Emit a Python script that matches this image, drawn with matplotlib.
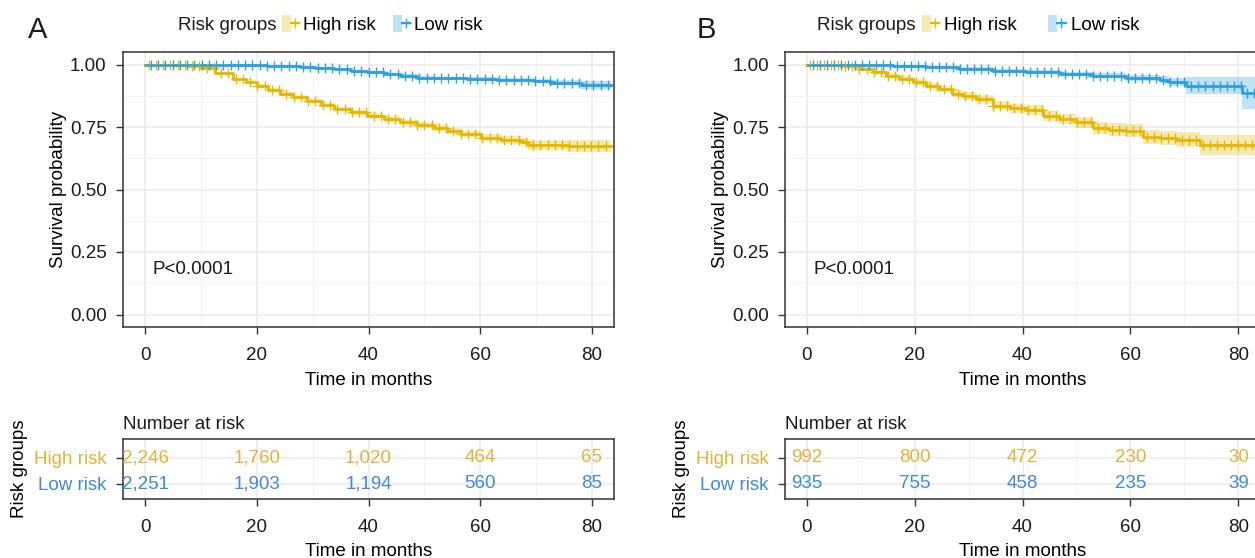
import matplotlib
matplotlib.use("Agg")
import matplotlib.pyplot as plt
import numpy as np
from matplotlib.patches import Patch
from matplotlib.lines import Line2D
from matplotlib.legend_handler import HandlerTuple
from matplotlib.ticker import MultipleLocator

plt.rcParams['font.family'] = ['Liberation Sans', 'DejaVu Sans']

W, H = 1255, 558
FS = 13.5

groups = ["High risk", "Low risk"]
curve_colors = {"High risk": "#E7B800", "Low risk": "#2E9FDF"}
table_colors = {"High risk": "#E2B33C", "Low risk": "#3F88DA"}
panel_labels = ["A", "B"]
pval_text = "P<0.0001"
risk_times = [0, 20, 40, 60, 80]

# ---------------- Panel A data ----------------
A_high_t = [0, 7.5, 9.9, 12.5, 15.8, 18.0, 20.0, 22.0, 24.2, 26.5, 29.0, 31.5, 33.8, 36.8, 39.8,
            42.7, 45.7, 48.7, 51.7, 54.0, 56.5, 60.1, 63.7, 67.3, 68.5, 75.7, 83.5]
A_high_s = [1.0, 0.995, 0.987, 0.968, 0.943, 0.930, 0.916, 0.900, 0.883, 0.870, 0.856, 0.838, 0.823,
            0.810, 0.796, 0.783, 0.769, 0.758, 0.747, 0.735, 0.723, 0.707, 0.699, 0.689, 0.679,
            0.675, 0.675]
A_high_hw = [0, 0.002, 0.003, 0.004, 0.005, 0.006, 0.006, 0.007, 0.007, 0.008, 0.008, 0.009, 0.009,
             0.010, 0.010, 0.011, 0.011, 0.012, 0.012, 0.013, 0.013, 0.014, 0.015, 0.016, 0.020,
             0.024, 0.024]
A_high_cens = [0.6, 1.9, 3.2, 4.5, 5.8, 7.1, 8.4, 9.7, 11.0, 12.3, 13.6, 14.9, 16.2, 17.5, 18.8,
               20.1, 21.4, 22.7, 24.0, 25.3, 26.6, 27.9, 29.2, 30.5, 31.8, 33.1, 34.4, 35.7, 37.0,
               38.3, 39.6, 40.9, 42.2, 43.5, 44.8, 46.1, 47.4, 48.7, 50.0, 51.3, 52.6, 53.9, 55.2,
               56.5, 57.8, 59.1, 60.4, 61.7, 63.0, 64.3, 65.6, 66.9, 68.2, 69.5, 70.8, 72.1, 73.4,
               74.7, 76.0, 77.3, 78.6, 79.9, 81.2, 82.5]

A_low_t = [0, 19.4, 21.8, 24.5, 27.8, 30.5, 33.8, 36.8, 39.8, 42.7, 45.7, 48.7, 52.0, 57.7, 63.0,
           69.7, 72.6, 78.0, 83.5]
A_low_s = [1.0, 0.998, 0.996, 0.994, 0.991, 0.987, 0.982, 0.976, 0.969, 0.962, 0.955, 0.947, 0.945,
           0.943, 0.940, 0.936, 0.927, 0.919, 0.919]
A_low_hw = [0, 0.001, 0.002, 0.002, 0.003, 0.003, 0.004, 0.004, 0.005, 0.005, 0.006, 0.006, 0.006,
            0.007, 0.007, 0.008, 0.010, 0.015, 0.015]
A_low_cens = [1.0, 2.3, 3.6, 4.9, 6.2, 7.5, 8.8, 10.1, 11.4, 12.7, 14.0, 15.3, 16.6, 17.9, 19.2,
              20.5, 21.8, 23.1, 24.4, 25.7, 27.0, 28.3, 29.6, 30.9, 32.2, 33.5, 34.8, 36.1, 37.4,
              38.7, 40.0, 41.3, 42.6, 43.9, 45.2, 46.5, 47.8, 49.1, 50.4, 51.7, 53.0, 54.3, 55.6,
              56.9, 58.2, 59.5, 60.8, 62.1, 63.4, 64.7, 66.0, 67.3, 68.6, 69.9, 71.2, 72.5, 73.8,
              75.1, 76.4, 77.7, 79.0, 80.3, 81.6, 82.9]

A_risk_high = [2246, 1760, 1020, 464, 65]
A_risk_low = [2251, 1903, 1194, 560, 85]

# ---------------- Panel B data ----------------
B_high_t = [0, 6.1, 9.8, 12.3, 14.8, 17.2, 19.7, 22.1, 24.6, 27.0, 29.0, 31.4, 34.5, 37.6, 40.7,
            43.8, 46.8, 49.9, 53.0, 56.0, 59.2, 62.3, 65.4, 68.5, 72.8, 83.5]
B_high_s = [1.0, 0.994, 0.983, 0.970, 0.956, 0.944, 0.929, 0.916, 0.903, 0.883, 0.875, 0.863, 0.836,
            0.826, 0.819, 0.796, 0.782, 0.769, 0.747, 0.740, 0.736, 0.712, 0.706, 0.699, 0.679,
            0.679]
B_high_hw = [0, 0.003, 0.005, 0.007, 0.009, 0.010, 0.011, 0.012, 0.013, 0.014, 0.015, 0.016, 0.017,
             0.018, 0.019, 0.020, 0.021, 0.022, 0.024, 0.025, 0.026, 0.028, 0.029, 0.030, 0.040,
             0.044]
B_high_cens = [0.7, 2.0, 3.3, 4.6, 5.9, 7.2, 8.5, 9.8, 11.1, 12.4, 13.7, 15.0, 16.3, 17.6, 18.9,
               20.2, 21.5, 22.8, 24.1, 25.4, 26.7, 28.0, 29.3, 30.6, 31.9, 33.2, 34.5, 35.8, 37.1,
               38.4, 39.7, 41.0, 42.3, 43.6, 44.9, 46.2, 47.5, 48.8, 50.1, 51.4, 52.7, 54.0, 55.3,
               56.6, 57.9, 59.2, 60.5, 61.8, 63.1, 64.4, 65.7, 67.0, 68.3, 69.6, 70.9, 72.2, 73.5,
               74.8, 76.1, 77.4, 78.7, 80.0, 81.3, 82.6]

B_low_t = [0, 12.3, 16.0, 22.2, 28.3, 34.5, 40.7, 46.9, 53.0, 59.2, 65.4, 67.2, 70.3, 80.7, 83.5]
B_low_s = [1.0, 0.998, 0.995, 0.992, 0.983, 0.976, 0.969, 0.963, 0.956, 0.947, 0.939, 0.929, 0.916,
           0.887, 0.887]
B_low_hw = [0, 0.002, 0.003, 0.004, 0.006, 0.007, 0.008, 0.009, 0.010, 0.012, 0.014, 0.016, 0.033,
            0.063, 0.063]
B_low_cens = [1.1, 2.4, 3.7, 5.0, 6.3, 7.6, 8.9, 10.2, 11.5, 12.8, 14.1, 15.4, 16.7, 18.0, 19.3,
              20.6, 21.9, 23.2, 24.5, 25.8, 27.1, 28.4, 29.7, 31.0, 32.3, 33.6, 34.9, 36.2, 37.5,
              38.8, 40.1, 41.4, 42.7, 44.0, 45.3, 46.6, 47.9, 49.2, 50.5, 51.8, 53.1, 54.4, 55.7,
              57.0, 58.3, 59.6, 60.9, 62.2, 63.5, 64.8, 66.1, 67.4, 68.7, 70.0, 71.3, 72.6, 73.9,
              75.2, 76.5, 77.8, 79.1, 80.4, 81.5, 82.8]

B_risk_high = [992, 800, 472, 230, 30]
B_risk_low = [935, 755, 458, 235, 39]

panels = [
    {
        "label": "A",
        "curves": {"High risk": (A_high_t, A_high_s, A_high_hw, A_high_cens),
                   "Low risk": (A_low_t, A_low_s, A_low_hw, A_low_cens)},
        "risk": {"High risk": A_risk_high, "Low risk": A_risk_low},
        "main_px": (123, 52, 614, 327),
        "risk_px": (123, 439, 614, 499),
        "label_px": (28, 30),
        "leg_title_px": 178,
        "leg_px": 282,
        "colspace": 0.9,
        "textpad": 0.2,
    },
    {
        "label": "B",
        "curves": {"High risk": (B_high_t, B_high_s, B_high_hw, B_high_cens),
                   "Low risk": (B_low_t, B_low_s, B_low_hw, B_low_cens)},
        "risk": {"High risk": B_risk_high, "Low risk": B_risk_low},
        "main_px": (785, 52, 1260, 327),
        "risk_px": (785, 439, 1260, 499),
        "label_px": (697, 30),
        "leg_title_px": 817,
        "leg_px": 922,
        "colspace": 1.65,
        "textpad": 0.27,
    },
]


def rect(px):
    x0, y0, x1, y1 = px
    return [x0 / W, 1 - y1 / H, (x1 - x0) / W, (y1 - y0) / H]


def style_axes(ax):
    for sp in ax.spines.values():
        sp.set_color("#333333")
        sp.set_linewidth(1.1)
    ax.tick_params(axis="both", which="major", length=5.2, width=1.0, color="#333333",
                   labelsize=FS, labelcolor="#1a1a1a")
    ax.tick_params(axis="x", which="major", pad=9)
    ax.tick_params(axis="y", which="major", pad=6.5)
    ax.tick_params(axis="both", which="minor", length=0)
    ax.grid(True, which="major", color="#EBEBEB", lw=1.1, zorder=0)
    ax.grid(True, which="minor", color="#F2F2F2", lw=0.6, zorder=0)
    ax.set_axisbelow(True)


fig = plt.figure(figsize=(W / 100, H / 100), dpi=100)

for p in panels:
    ax = fig.add_axes(rect(p["main_px"]))
    for g in groups:
        t, s, hw, cens = p["curves"][g]
        t = np.asarray(t); s = np.asarray(s); hw = np.asarray(hw)
        col = curve_colors[g]
        ax.fill_between(t, s - hw, np.minimum(s + hw, 1.0), step="post", color=col,
                        alpha=0.3, lw=0, zorder=2)
        ax.step(t, s, where="post", color=col, lw=2.0, zorder=3)
        cens = np.asarray(cens)
        idx = np.searchsorted(t, cens, side="right") - 1
        ax.plot(cens, s[idx], ls="none", marker="+", ms=7, mew=1.0, color=col, zorder=4)
    ax.set_xlim(-4, 84)
    ax.set_ylim(-0.05, 1.05)
    ax.xaxis.set_major_locator(MultipleLocator(20))
    ax.xaxis.set_minor_locator(MultipleLocator(10))
    ax.yaxis.set_major_locator(MultipleLocator(0.25))
    ax.yaxis.set_minor_locator(MultipleLocator(0.125))
    ax.yaxis.set_major_formatter(matplotlib.ticker.FormatStrFormatter("%.2f"))
    style_axes(ax)
    ax.set_xlabel("Time in months", fontsize=FS, labelpad=6)
    ax.set_ylabel("Survival probability", fontsize=FS, labelpad=2)
    ax.text(1.2, 0.18, pval_text, fontsize=FS, ha="left", va="center", color="#1a1a1a")

    # legend
    handles = []
    for g in groups:
        col = curve_colors[g]
        handles.append((Patch(facecolor=col, alpha=0.3, edgecolor="none"),
                        Line2D([], [], color=col, lw=1.5, marker="+", ms=7, mew=1.0)))
    fig.legend(handles, groups, handler_map={tuple: HandlerTuple(ndivide=None)},
               loc="center left", bbox_to_anchor=(p["leg_px"] / W, 1 - 24.5 / H),
               ncol=2, frameon=False, fontsize=FS, borderpad=0, borderaxespad=0,
               handlelength=0.93, handleheight=1.0, handletextpad=p["textpad"],
               columnspacing=p["colspace"])
    fig.text(p["leg_title_px"] / W, 1 - 25 / H, "Risk groups", fontsize=FS,
             ha="left", va="center", color="#1a1a1a")
    fig.text(p["label_px"][0] / W, 1 - p["label_px"][1] / H, p["label"], fontsize=21,
             ha="left", va="center", color="#1a1a1a")

    # risk table
    rx = fig.add_axes(rect(p["risk_px"]))
    rows = {"High risk": 2, "Low risk": 1}
    for g in groups:
        for tt, n in zip(risk_times, p["risk"][g]):
            rx.text(tt, rows[g], f"{n:,}", ha="center", va="center", fontsize=FS,
                    color=table_colors[g])
    rx.set_xlim(-4, 84)
    rx.set_ylim(0.42, 2.73)
    rx.xaxis.set_major_locator(MultipleLocator(20))
    rx.xaxis.set_minor_locator(MultipleLocator(10))
    rx.set_yticks([rows[g] for g in groups])
    rx.set_yticklabels(groups)
    style_axes(rx)
    for lab, g in zip(rx.get_yticklabels(), groups):
        lab.set_color(table_colors[g])
    rx.set_xlabel("Time in months", fontsize=FS, labelpad=5.5)
    rx.set_ylabel("Risk groups", fontsize=FS, labelpad=4)
    rx.set_title("Number at risk", fontsize=FS, loc="left", pad=7, color="#1a1a1a")

fig.savefig("out.png", dpi=100)
